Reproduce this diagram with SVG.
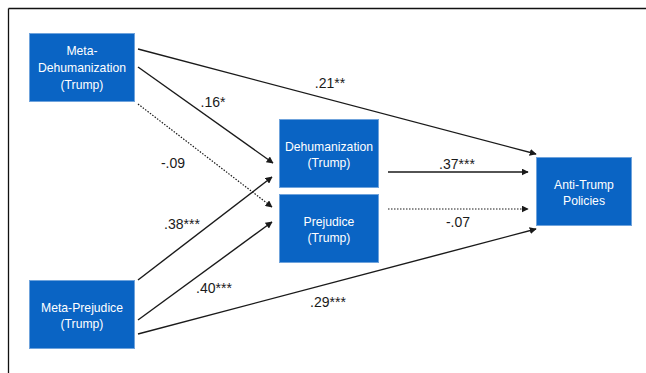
<svg xmlns="http://www.w3.org/2000/svg" width="646" height="373" viewBox="0 0 646 373">
<style>
.node rect{fill:#0a64c4;stroke:#6fa3dc;stroke-width:1}
.node text{fill:#ffffff;font-family:"Liberation Sans",Arial,sans-serif;font-size:12.2px;text-anchor:middle}
.edge{stroke:#1a1a1a;stroke-width:1.4;fill:none}
.dot{stroke-dasharray:1.5 1.5;stroke-width:1.2}
.lbl{fill:#1a1a1a;font-family:"Liberation Sans",Arial,sans-serif;font-size:14px;text-anchor:middle}
</style>
<defs>
<marker id="ah" viewBox="0 0 10 10" refX="9" refY="5" markerWidth="7" markerHeight="7" markerUnits="userSpaceOnUse" orient="auto">
<path d="M0,0 L10,5 L0,10 z" fill="#1a1a1a"/>
</marker>
</defs>
<rect width="646" height="373" fill="#ffffff"/>
<g id="frame">
<line x1="8.5" y1="8.5" x2="646" y2="8.5" stroke="#111" stroke-width="1.3"/>
<line x1="8.5" y1="8.5" x2="8.5" y2="373" stroke="#111" stroke-width="1.3"/>
</g>
<g id="connectors">
<line class="edge" x1="138" y1="49" x2="536" y2="154" marker-end="url(#ah)"/>
<line class="edge" x1="138" y1="67" x2="273" y2="163" marker-end="url(#ah)"/>
<line class="edge dot" x1="138" y1="104" x2="272" y2="207" marker-end="url(#ah)"/>
<line class="edge" x1="138" y1="280" x2="272" y2="177" marker-end="url(#ah)"/>
<line class="edge" x1="138" y1="320" x2="272" y2="222" marker-end="url(#ah)"/>
<line class="edge" x1="138" y1="334" x2="536" y2="229" marker-end="url(#ah)"/>
<line class="edge" x1="388" y1="172" x2="528" y2="172" marker-end="url(#ah)"/>
<line class="edge dot" x1="388" y1="209" x2="528" y2="209" marker-end="url(#ah)"/>
<text class="lbl" x="330" y="88">.21**</text>
<text class="lbl" x="213" y="107">.16*</text>
<text class="lbl" x="173" y="168">-.09</text>
<text class="lbl" x="182" y="229">.38***</text>
<text class="lbl" x="214" y="293">.40***</text>
<text class="lbl" x="328" y="307">.29***</text>
<text class="lbl" x="457" y="169">.37***</text>
<text class="lbl" x="458" y="227">-.07</text>
</g>
<g id="meta-dehumanization" class="node">
<rect x="29.5" y="33.5" width="105" height="68"/>
<text x="82" y="55">Meta-</text>
<text x="82" y="72">Dehumanization</text>
<text x="82" y="89">(Trump)</text>
</g>
<g id="meta-prejudice" class="node">
<rect x="29.5" y="280.5" width="105" height="68"/>
<text x="82" y="312">Meta-Prejudice</text>
<text x="82" y="328">(Trump)</text>
</g>
<g id="dehumanization" class="node">
<rect x="279.5" y="119.5" width="99" height="68"/>
<text x="329" y="151">Dehumanization</text>
<text x="329" y="167">(Trump)</text>
</g>
<g id="prejudice" class="node">
<rect x="279.5" y="194.5" width="99" height="68"/>
<text x="329" y="226">Prejudice</text>
<text x="329" y="242">(Trump)</text>
</g>
<g id="anti-trump" class="node">
<rect x="536.5" y="157.5" width="95" height="68"/>
<text x="584" y="189">Anti-Trump</text>
<text x="584" y="205">Policies</text>
</g>
</svg>
